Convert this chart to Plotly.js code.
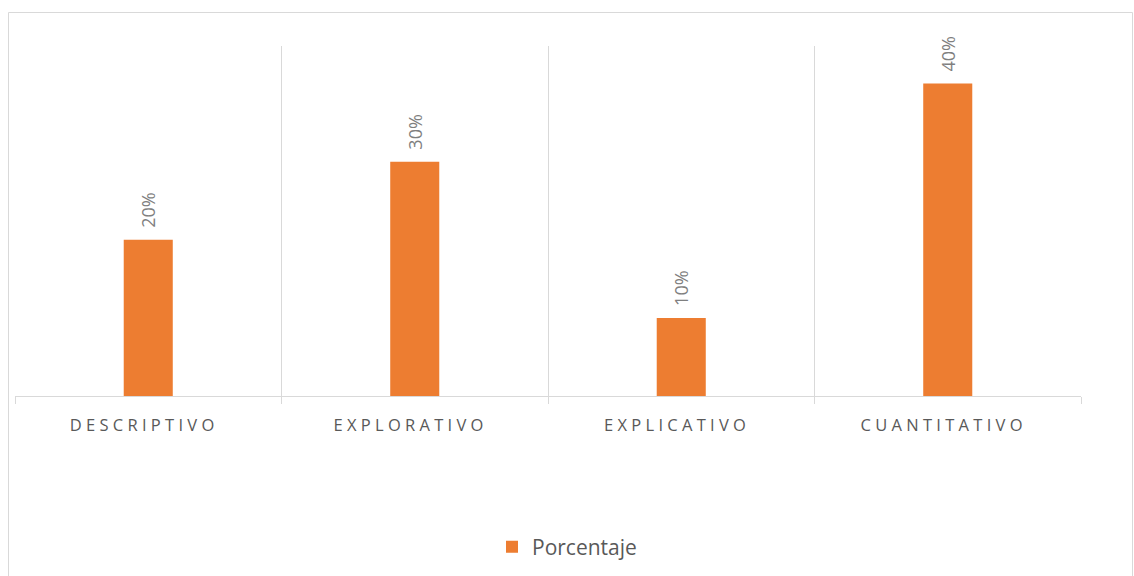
<!DOCTYPE html>
<html>
<head>
<meta charset="utf-8">
<script src="https://cdn.plot.ly/plotly-3.0.1.min.js"></script>
<style>html,body{margin:0;padding:0;background:#fff;}#chart{width:1134px;height:576px;}</style>
</head>
<body>
<div id="chart"></div>
<script>
const categories = ["DESCRIPTIVO", "EXPLORATIVO", "EXPLICATIVO", "CUANTITATIVO"];
const values = [0.20, 0.30, 0.10, 0.40];
const valueLabels = ["20%", "30%", "10%", "40%"];
const seriesName = "Porcentaje";

const W = 1134, H = 576;
const mL = 15, mR = 53, mT = 46, mB = 180;
const pw = W - mL - mR, ph = H - mT - mB;
function px2paperX(x){ return (x - mL) / pw; }
function px2paperY(y){ return (H - mB - y) / ph; }

const spaced = categories.map(c => c.split('').join(' ') + '\u00A0\u2002');
const paddedLabels = valueLabels.map(s => '\u2002' + s);

const trace = {
  type: 'bar',
  x: categories,
  y: values,
  name: seriesName,
  marker: {color: '#ED7D31'},
  width: 0.184,
  text: paddedLabels,
  textposition: 'outside',
  textangle: -90,
  cliponaxis: false,
  textfont: {family: 'Open Sans, sans-serif', size: 18, color: '#7f7f7f'},
  hoverinfo: 'none'
};

const layout = {
  width: W, height: H,
  margin: {l: mL, r: mR, t: mT, b: mB},
  paper_bgcolor: '#ffffff',
  plot_bgcolor: '#ffffff',
  showlegend: true,
  legend: {
    orientation: 'h', x: 0.5, xanchor: 'center', xref: 'container',
    y: 29/H, yref: 'container', yanchor: 'middle',
    font: {family: 'Open Sans, sans-serif', size: 21, color: '#595959'},
    itemwidth: 30
  },
  xaxis: {
    type: 'category',
    tickson: 'boundaries',
    showgrid: true, gridcolor: '#d9d9d9', gridwidth: 1,
    showline: true, linecolor: '#d9d9d9', linewidth: 1,
    ticks: 'outside', ticklen: 7, tickcolor: '#d9d9d9',
    tickvals: categories, ticktext: spaced,
    tickfont: {family: 'Open Sans, sans-serif', size: 16.5, color: '#595959'},
    ticklabelstandoff: 14,
    range: [-0.5, 3.5],
    fixedrange: true
  },
  yaxis: {
    range: [0, 0.448],
    showgrid: false, zeroline: false, showticklabels: false, showline: false, ticks: '',
    fixedrange: true
  },
  shapes: [{
    type: 'rect', xref: 'paper', yref: 'paper',
    x0: px2paperX(8.5), x1: px2paperX(1132.5),
    y0: px2paperY(590), y1: px2paperY(12.5),
    line: {color: '#d9d9d9', width: 1}, fillcolor: 'rgba(0,0,0,0)', layer: 'below'
  }]
};

Plotly.newPlot('chart', [trace], layout, {displayModeBar: false, staticPlot: true});
</script>
</body>
</html>
